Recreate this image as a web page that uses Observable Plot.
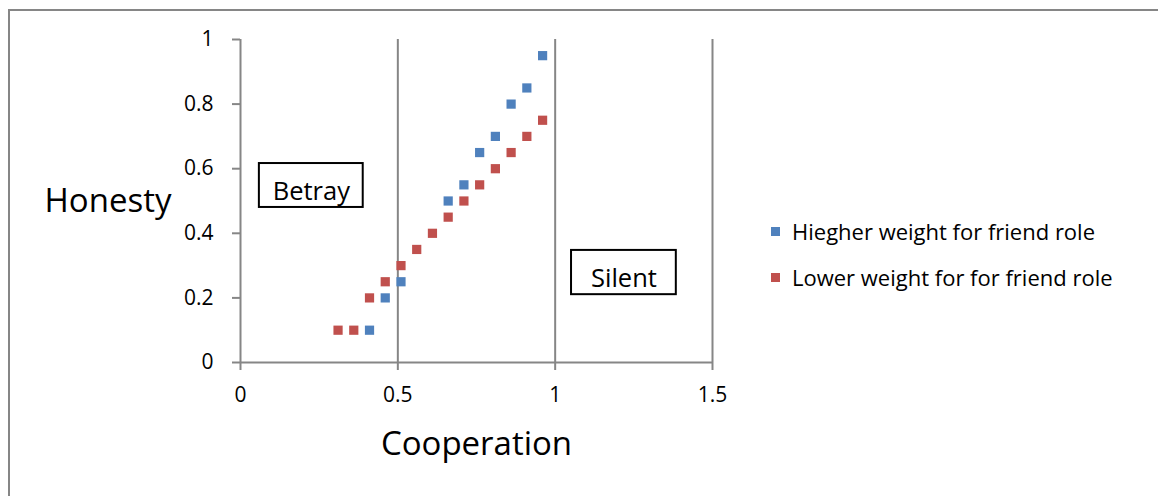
<!DOCTYPE html>
<html>
<head>
<meta charset="utf-8">
<script src="https://cdn.jsdelivr.net/npm/d3@7"></script>
<script src="https://cdn.jsdelivr.net/npm/@observablehq/plot@0.6"></script>
<style>
  html, body { margin: 0; padding: 0; background: #fff; overflow: hidden; }
  #wrap { position: relative; width: 1158px; height: 496px; font-family: "Open Sans", Lato, sans-serif; }
  #frame { position: absolute; left: 8px; top: 9px; width: 1170px; height: 510px; border: 2px solid #868686; box-sizing: border-box; }
  #chart { position: absolute; left: 0; top: 0; }
  #legend { position: absolute; left: 771px; top: 216px; font-size: 22px; color: #000; }
  .item { display: flex; align-items: center; height: 30px; margin-bottom: 16px; }
  .sw { width: 9px; height: 9px; margin-right: 12px; }
</style>
</head>
<body>
<div id="wrap">
  <div id="frame"></div>
  <div id="chart"></div>
  <div id="legend"></div>
</div>
<script>
// ---- data ----
const seriesNames = ["Hiegher weight for friend role", "Lower weight for for friend role"];
const seriesColors = ["#4F81BD", "#C0504D"];
const highX = [0.41, 0.46, 0.51, 0.66, 0.71, 0.76, 0.81, 0.86, 0.91, 0.96];
const highY = [0.10, 0.20, 0.25, 0.50, 0.55, 0.65, 0.70, 0.80, 0.85, 0.95];
const lowX = [0.31, 0.36, 0.41, 0.46, 0.51, 0.56, 0.61, 0.66, 0.71, 0.76, 0.81, 0.86, 0.91, 0.96];
const lowY = [0.10, 0.10, 0.20, 0.25, 0.30, 0.35, 0.40, 0.45, 0.50, 0.55, 0.60, 0.65, 0.70, 0.75];
const xTicks = [0, 0.5, 1, 1.5];
const yTicks = [0, 0.2, 0.4, 0.6, 0.8, 1];
const xTitle = "Cooperation";
const yTitle = "Honesty";
// annotation boxes (data units)
const zoneLabels = ["Betray", "Silent"];
const zoneX1 = [0.06, 1.052];
const zoneX2 = [0.39, 1.385];
const zoneY1 = [0.48, 0.21];
const zoneY2 = [0.616, 0.347];

// ---- tables ----
const points = [
  ...highX.map((x, i) => ({x, y: highY[i], s: seriesNames[0]})),
  ...lowX.map((x, i) => ({x, y: lowY[i], s: seriesNames[1]}))
];
const zones = zoneLabels.map((label, i) => ({label, x1: zoneX1[i], x2: zoneX2[i], y1: zoneY1[i], y2: zoneY2[i]}));

const axisColor = "#868686";
const font = "'Open Sans', Lato, sans-serif";

const chart = Plot.plot({
  width: 1158,
  height: 496,
  marginLeft: 240,
  marginRight: 446,
  marginTop: 39,
  marginBottom: 134,
  style: { fontFamily: font, background: "transparent", color: "#000" },
  x: { domain: [0, 1.5] },
  y: { domain: [0, 1] },
  color: { domain: seriesNames, range: seriesColors },
  marks: [
    Plot.ruleX(xTicks.filter(d => d > 0), { stroke: axisColor, strokeWidth: 2 }),
    Plot.ruleX([0], { stroke: axisColor, strokeWidth: 2 }),
    Plot.ruleY([0], { stroke: axisColor, strokeWidth: 2 }),
    Plot.axisY({ ticks: yTicks, tickSize: 8, tickPadding: 19, fontSize: 21, stroke: axisColor, strokeWidth: 2, tickFormat: d => String(d), label: null }),
    Plot.axisX({ ticks: xTicks, tickSize: 8, tickPadding: 17, fontSize: 21, stroke: axisColor, strokeWidth: 2, tickFormat: d => String(d), label: null }),
    Plot.rect(zones, { x1: "x1", x2: "x2", y1: "y1", y2: "y2", fill: "white", stroke: "black", strokeWidth: 2 }),
    Plot.text(zones, { x: d => (d.x1 + d.x2) / 2, y: d => (d.y1 + d.y2) / 2, text: "label", fontSize: 25.5, dy: 6, lineAnchor: "middle", fill: "black" }),
    Plot.dot(points, { x: "x", y: "y", fill: "s", symbol: "square", r: 5.2 }),
    Plot.text([yTitle], { frameAnchor: "left", dx: -196, textAnchor: "start", fontSize: 33, lineAnchor: "middle", fill: "black" }),
    Plot.text([xTitle], { frameAnchor: "bottom", dy: 82, fontSize: 33, lineAnchor: "middle", fill: "black" })
  ]
});
document.getElementById("chart").appendChild(chart);

const legend = document.getElementById("legend");
seriesNames.forEach((name, i) => {
  const item = document.createElement("div");
  item.className = "item";
  const sw = document.createElement("span");
  sw.className = "sw";
  sw.style.background = seriesColors[i];
  const label = document.createElement("span");
  label.textContent = name;
  item.appendChild(sw);
  item.appendChild(label);
  legend.appendChild(item);
});
</script>
</body>
</html>
